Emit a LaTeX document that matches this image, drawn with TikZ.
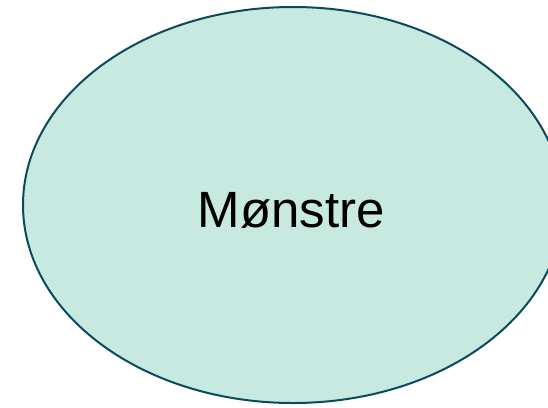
\documentclass[tikz,border=0pt]{standalone}
\usepackage{fontspec}
\setmainfont{Liberation Sans}
\definecolor{ellfill}{HTML}{C8E9E0}
\definecolor{elldraw}{HTML}{0B4A5A}
\begin{document}
\begin{tikzpicture}[x=1pt,y=-1pt,
  blob/.style={fill=ellfill,draw=elldraw,line width=2pt},
  lbl/.style={font=\fontsize{51}{60}\selectfont,text=black}]
\useasboundingbox (0,0) rectangle (548,407);
\clip (0,0) rectangle (548,407);
\path[blob] (293,205) ellipse [x radius=270, y radius=198];
\node[lbl] (m) at (291.5,210) {Mønstre};
\end{tikzpicture}
\end{document}
